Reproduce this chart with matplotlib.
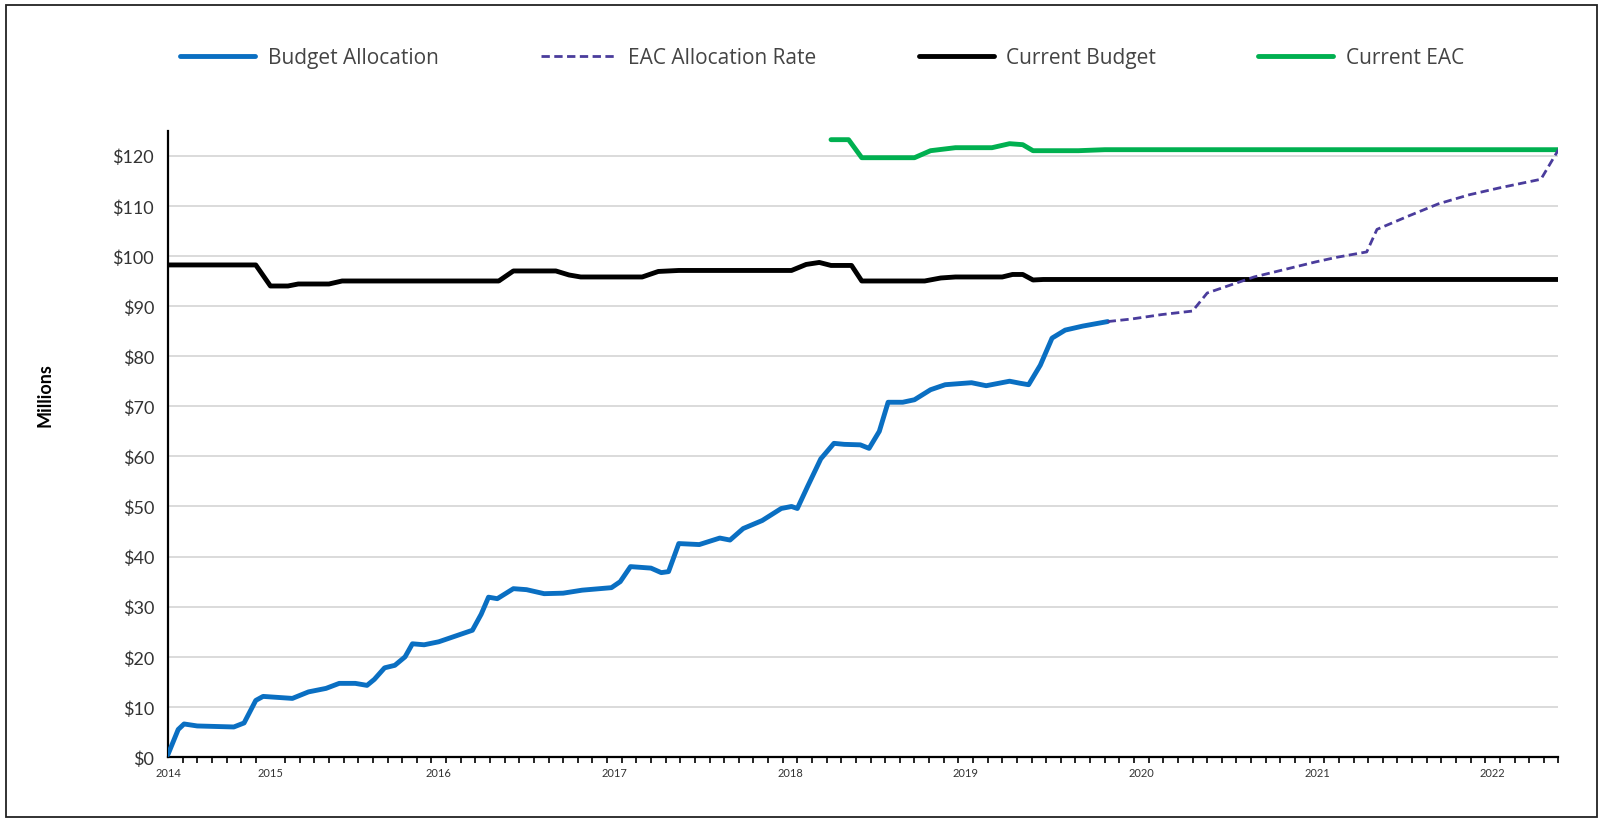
import matplotlib
matplotlib.use("Agg")
import matplotlib.pyplot as plt
from matplotlib.patches import Rectangle
from matplotlib.ticker import FixedLocator, FuncFormatter

# x axis = months since June 2014 (axis start)
YEAR_POS = [0, 7, 18.5, 30.5, 42.5, 54.5, 66.5, 78.5, 90.5]
YEAR_LBL = ["2014", "2015", "2016", "2017", "2018", "2019", "2020", "2021", "2022"]
X_END = 95

# Budget Allocation ($M)
BA_M = [0, 0.7, 1.1, 2, 4.5, 5.2, 6.0, 6.5, 8.5, 9.6, 10.8, 11.7, 12.8, 13.6, 14.1,
        14.8, 15.5, 16.2, 16.7, 17.5, 18.5, 20.0, 20.8, 21.4, 21.9, 22.5, 23.6, 24.5,
        25.7, 27.0, 28.3, 30.3, 30.9, 31.6, 33.0, 33.7, 34.2, 34.9, 36.3, 37.7, 38.4,
        39.3, 40.6, 41.9, 42.6, 43.0, 43.7, 44.6, 45.5, 46.2, 47.3, 47.9, 48.6, 49.2,
        50.2, 51.0, 52.1, 53.1, 54.9, 55.9, 57.5, 58.2, 58.8, 59.6, 60.4, 61.3, 62.5, 64.2]
BA_V = [0.5, 5.5, 6.6, 6.2, 6.0, 6.8, 11.3, 12.1, 11.7, 13.0, 13.7, 14.7, 14.7, 14.3, 15.5,
        17.8, 18.3, 20.0, 22.6, 22.4, 23.0, 24.5, 25.3, 28.5, 31.9, 31.6, 33.6, 33.4,
        32.6, 32.7, 33.3, 33.8, 35.0, 38.0, 37.7, 36.8, 37.0, 42.6, 42.4, 43.7, 43.3,
        45.6, 47.2, 49.6, 50.0, 49.6, 54.0, 59.5, 62.6, 62.4, 62.3, 61.6, 65.0, 70.8,
        70.8, 71.3, 73.3, 74.3, 74.7, 74.1, 75.0, 74.6, 74.3, 78.2, 83.6, 85.2, 86.0, 86.9]

# EAC Allocation Rate (forecast, dashed)
EAC_M = [64.2, 65.8, 67.9, 70.0, 71.0, 72.8, 74.2, 76.3, 78.4, 79.8, 81.9, 82.6,
         84.7, 86.8, 88.9, 91.0, 93.8, 95.0]
EAC_V = [86.9, 87.4, 88.3, 89.0, 92.6, 94.4, 95.8, 97.3, 98.8, 99.7, 100.8, 105.3,
         107.9, 110.4, 112.2, 113.6, 115.3, 121.2]

# Current Budget
CB_M = [0, 6.0, 7.0, 8.2, 8.9, 11.0, 11.9, 22.6, 23.6, 26.5, 27.4, 28.2, 32.4, 33.5,
        34.9, 42.6, 43.6, 44.5, 45.3, 46.7, 47.4, 51.7, 52.8, 53.8, 57.0, 57.7, 58.4,
        59.1, 59.8, 95.0]
CB_V = [98.2, 98.2, 94.0, 94.0, 94.4, 94.4, 95.0, 95.0, 97.0, 97.0, 96.2, 95.8, 95.8,
        96.9, 97.1, 97.1, 98.3, 98.7, 98.1, 98.1, 95.0, 95.0, 95.6, 95.8, 95.8, 96.3,
        96.3, 95.2, 95.3, 95.3]

# Current EAC
CE_M = [45.3, 46.5, 47.4, 51.0, 52.1, 53.8, 56.3, 57.5, 58.4, 59.1, 62.2, 64.0, 95.0]
CE_V = [123.2, 123.2, 119.6, 119.6, 121.0, 121.6, 121.6, 122.4, 122.2, 121.0, 121.0,
        121.2, 121.2]

BLUE, PURPLE, GREEN = "#0a6fc2", "#4a3c9c", "#00b050"

fig = plt.figure(figsize=(16.15, 8.28), dpi=100)
ax = fig.add_axes([0.104, 0.0845, 0.861, 0.7565])

line_kw = dict(solid_capstyle="round", solid_joinstyle="round")
ax.plot(CB_M, CB_V, color="black", lw=3.5, label="Current Budget", zorder=3, **line_kw)
ax.plot(CE_M, CE_V, color=GREEN, lw=3.5, label="Current EAC", zorder=3, **line_kw)
ax.plot(BA_M, BA_V, color=BLUE, lw=3.5, label="Budget Allocation", zorder=4, **line_kw)
ax.plot(EAC_M, EAC_V, color=PURPLE, lw=2.0, ls=(0, (3, 1.6)),
        label="EAC Allocation Rate", zorder=5)

ax.set_xlim(0, X_END)
ax.set_ylim(0, 125)

ax.set_yticks(range(0, 121, 10))
ax.yaxis.set_major_formatter(FuncFormatter(lambda v, p: f"${v:.0f}"))
ax.tick_params(axis="y", length=0, pad=10, labelsize=13, labelcolor="#333333")
for lab in ax.get_yticklabels():
    lab.set_fontfamily("Lato")
ax.grid(axis="y", color="#d4d4d4", lw=1.2)
ax.set_axisbelow(True)

ax.set_xticks(YEAR_POS)
ax.set_xticklabels(YEAR_LBL, fontsize=8, color="#333333", fontfamily="Lato")
ax.tick_params(axis="x", which="major", length=0, pad=7)
ax.xaxis.set_minor_locator(FixedLocator(range(0, X_END + 1)))
ax.tick_params(axis="x", which="minor", length=4, width=1.2, color="black", direction="out")

for s in ["top", "right"]:
    ax.spines[s].set_visible(False)
for s in ["left", "bottom"]:
    ax.spines[s].set_linewidth(1.6)
    ax.spines[s].set_color("black")

ax.set_ylabel("Millions", fontsize=13, fontweight="bold", fontfamily="Lato")
ax.yaxis.set_label_coords(-0.082, 0.58)

handles, labels = ax.get_legend_handles_labels()
order = [2, 3, 0, 1]
fig.legend([handles[i] for i in order], [labels[i] for i in order],
           loc="center", bbox_to_anchor=(0.509, 0.929), ncol=4, frameon=False,
           prop={"family": "Open Sans", "size": 15}, handlelength=3.6,
           handletextpad=0.6, columnspacing=4.9, labelcolor="#444444")

# outer frame
fig.patches.append(Rectangle((0.004, 0.012), 0.985, 0.981, transform=fig.transFigure,
                             fill=False, edgecolor="#222222", lw=1.3))

fig.savefig("out.png", dpi=100)
